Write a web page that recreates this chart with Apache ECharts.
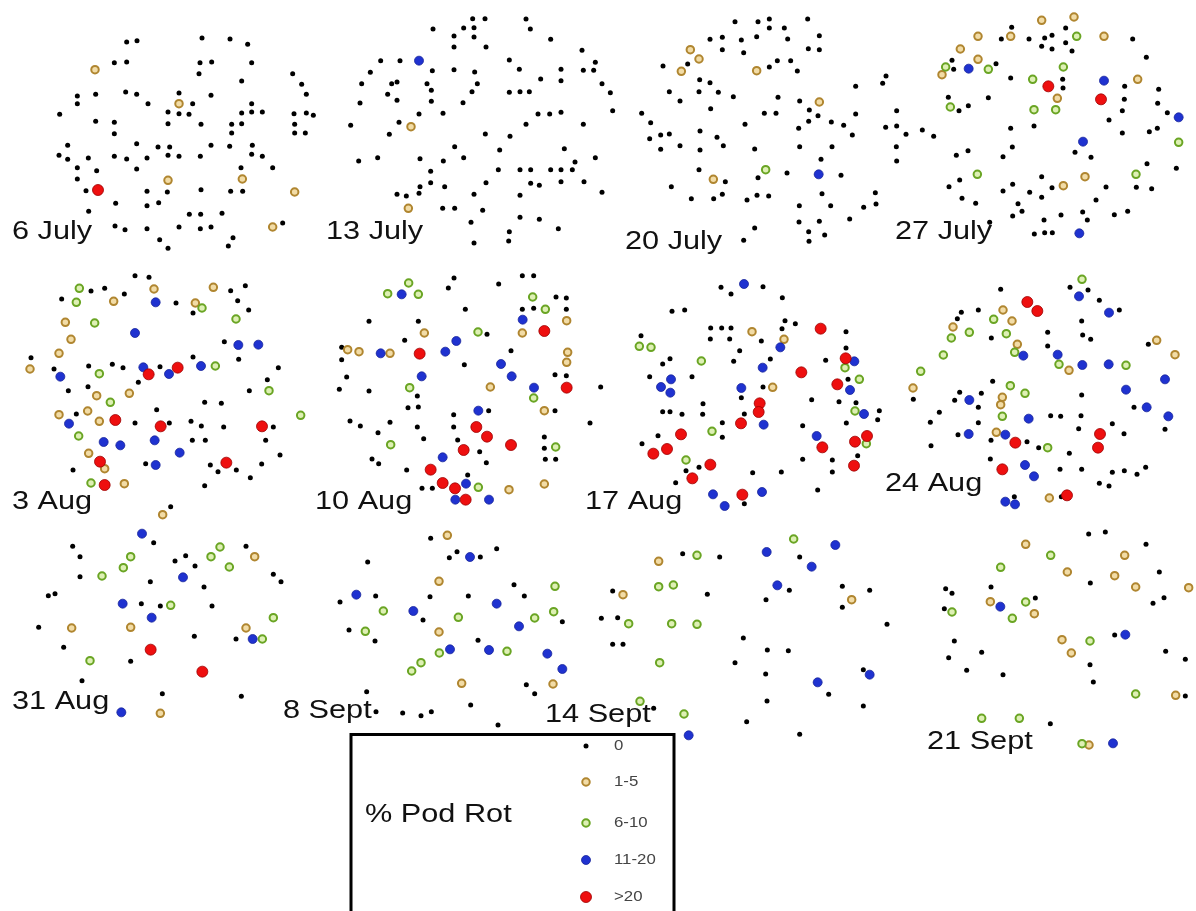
<!DOCTYPE html>
<html>
<head>
<meta charset="utf-8">
<script src="https://cdn.jsdelivr.net/npm/echarts@6/dist/echarts.min.js"></script>
<style>
  html, body { margin: 0; padding: 0; background: #fff; }
  #chart { width: 1196px; height: 911px; }
</style>
</head>
<body>
<div id="chart"></div>
<script>
// rot classes, same order as the legend
var classNames = ['0', '1-5', '6-10', '11-20', '>20'];

var panelLabels = ['6 July', '13 July', '20 July', '27 July', '3 Aug', '10 Aug',
  '17 Aug', '24 Aug', '31 Aug', '8 Sept', '14 Sept', '21 Sept'];

// each sampling date: plant positions in field units, one list per rot class
var jul06 = [
  [[380,126],[411,122],[606,114],[690,117],[743,133],[343,188],[380,186],[600,188],[635,186],[755,188],[597,221],[878,221],[725,243],[905,253],[232,288],[287,283],[377,276],[410,283],[537,279],[633,286],[919,283],[232,311],[444,311],[578,311],[755,311],[179,343],[504,336],[537,341],[567,343],[725,339],[755,336],[787,336],[882,341],[919,339],[940,346],[287,364],[343,367],[504,371],[603,373],[695,373],[725,371],[884,373],[343,401],[695,399],[884,399],[916,399],[203,436],[410,431],[474,441],[509,441],[633,436],[689,439],[757,436],[177,466],[203,478],[265,474],[343,469],[380,477],[441,474],[504,466],[537,469],[601,469],[755,463],[787,469],[232,503],[290,512],[410,507],[723,503],[818,503],[232,537],[258,572],[441,574],[502,576],[603,569],[692,574],[728,574],[347,610],[441,617],[476,608],[266,634],[568,643],[602,643],[666,640],[345,678],[375,689],[441,686],[537,681],[601,686],[633,681],[848,669],[479,719],[699,713],[504,745],[685,738]],
  [[285,209],[537,311],[504,541],[727,537],[884,576],[818,681]],
  [],
  [],
  [[294,570]]
];
var jul13 = [
  [[488,56],[525,56],[648,57],[369,87],[461,84],[492,83],[661,87],[432,108],[492,111],[722,118],[432,141],[528,141],[816,151],[212,182],[270,182],[598,180],[856,187],[181,217],[367,212],[432,209],[494,216],[628,208],[753,208],[820,211],[851,211],[155,251],[245,251],[261,246],[351,251],[502,251],[692,237],[753,242],[876,251],[233,283],[364,271],[486,275],[598,277],[630,275],[658,275],[901,278],[150,309],[261,301],[364,304],[459,308],[908,332],[327,342],[399,340],[684,342],[719,342],[753,337],[122,376],[267,367],[648,373],[820,373],[238,403],[526,402],[600,409],[434,440],[569,450],[763,446],[146,483],[203,473],[330,476],[400,483],[461,473],[856,473],[795,486],[362,514],[565,509],[630,509],[662,509],[722,509],[753,509],[787,509],[330,560],[362,548],[404,560],[528,548],[662,550],[688,556],[753,545],[822,545],[876,577],[261,583],[289,588],[327,580],[492,583],[630,586],[398,625],[434,625],[518,631],[483,667],[630,652],[688,658],[745,686],[598,695],[492,729],[596,723]],
  [[303,380],[295,625]],
  [],
  [[327,182]],
  []
];
var jul20 = [
  [[375,65],[444,65],[478,57],[593,57],[478,84],[523,84],[300,118],[337,112],[394,120],[440,110],[533,117],[628,107],[337,149],[401,158],[595,146],[628,149],[159,198],[233,192],[478,201],[502,182],[542,182],[562,213],[269,239],[300,248],[737,259],[178,275],[267,275],[325,277],[370,290],[504,292],[210,303],[569,303],[95,340],[302,326],[463,340],[498,340],[598,330],[737,342],[122,368],[405,373],[566,385],[596,364],[624,347],[664,366],[701,376],[119,416],[152,405],[178,402],[270,393],[321,412],[727,405],[152,448],[210,437],[270,450],[340,437],[434,447],[569,440],[666,440],[633,478],[267,509],[531,519],[693,526],[184,560],[346,545],[444,533],[244,596],[311,596],[337,583],[411,600],[441,586],[476,588],[636,581],[796,578],[568,617],[662,617],[761,622],[798,612],[567,666],[628,664],[719,657],[434,684],[401,721],[596,695],[644,705],[597,724]],
  [[241,149],[267,177],[214,214],[440,212],[628,306],[310,538]],
  [[467,509]],
  [[626,523]],
  []
];
var jul27 = [
  [[395,82],[557,84],[364,117],[447,117],[494,114],[516,106],[557,128],[758,117],[485,139],[516,147],[576,153],[799,172],[216,181],[221,208],[348,191],[18,228],[8,250],[392,234],[548,238],[549,264],[734,259],[836,268],[205,292],[325,293],[733,298],[833,310],[50,332],[237,332],[265,317],[727,332],[862,338],[687,360],[17,382],[50,378],[78,403],[127,390],[161,409],[392,385],[462,378],[727,399],[808,395],[832,385],[49,440],[397,441],[50,483],[229,466],[264,452],[369,470],[585,457],[633,472],[801,491],[889,505],[239,540],[485,530],[207,560],[398,553],[369,573],[449,577],[516,563],[678,561],[769,562],[815,566],[246,595],[287,610],[485,592],[414,611],[648,600],[426,634],[398,648],[543,645],[608,636],[622,660],[703,644],[743,634],[329,667],[492,660],[463,702],[494,698],[517,698]],
  [[485,61],[582,51],[294,109],[392,109],[672,109],[241,147],[294,178],[186,224],[532,295],[773,238],[615,530],[550,557]],
  [[590,109],[197,201],[325,208],[550,201],[458,238],[211,321],[462,329],[527,329],[896,427],[292,523],[768,523]],
  [[266,206],[672,242],[896,352],[609,425],[598,700]],
  [[505,259],[663,298]]
];
var aug03 = [
  [[405,47],[447,52],[185,117],[273,93],[314,85],[373,102],[528,129],[692,92],[736,77],[713,122],[579,159],[746,150],[673,245],[93,293],[579,291],[716,298],[162,327],[266,318],[337,313],[369,323],[480,320],[835,323],[415,367],[802,359],[205,392],[264,380],[748,392],[470,449],[614,427],[664,430],[229,462],[405,489],[508,489],[573,484],[604,498],[671,501],[820,501],[577,541],[616,541],[797,541],[840,585],[437,611],[631,615],[654,635],[709,630],[785,612],[219,630],[751,653],[614,677],[512,740]],
  [[462,87],[640,82],[341,124],[586,129],[196,187],[213,238],[177,280],[90,327],[290,407],[388,400],[177,464],[263,453],[298,484],[266,580],[314,626],[373,671],[488,764]],
  [[238,85],[229,127],[284,189],[606,144],[708,177],[298,341],[646,318],[807,392],[331,427],[902,466],[236,528],[273,669]],
  [[467,127],[405,219],[715,255],[775,254],[430,322],[507,342],[603,318],[181,350],[207,491],[311,546],[361,556],[464,541],[539,578],[467,615]],
  [[446,343],[533,323],[346,480],[482,499],[786,499],[300,605],[679,608],[314,675]]
];
var aug10 = [
  [[432,54],[415,84],[566,72],[637,47],[671,47],[738,111],[769,114],[466,148],[637,148],[671,145],[769,148],[177,184],[325,184],[531,223],[284,241],[95,262],[603,272],[95,299],[463,314],[110,351],[735,344],[769,347],[88,388],[177,393],[872,381],[322,408],[294,443],[325,441],[536,452],[431,464],[735,452],[120,483],[151,498],[240,487],[322,501],[431,501],[840,489],[204,518],[341,536],[443,540],[703,531],[509,575],[703,565],[186,597],[206,611],[529,608],[706,598],[737,598],[290,630],[473,645],[336,685],[367,685]],
  [[113,269],[147,275],[240,280],[343,219],[637,219],[770,182],[773,277],[770,307],[541,381],[703,452],[597,689],[703,672]],
  [[296,69],[233,101],[325,103],[668,111],[706,148],[504,216],[299,383],[671,414],[242,554],[737,561],[505,682]],
  [[275,103],[638,179],[439,243],[212,280],[406,275],[573,312],[605,349],[335,349],[672,383],[505,452],[398,592],[468,671],[436,719],[537,719]],
  [[703,213],[329,281],[770,383],[499,501],[531,530],[603,555],[461,570],[362,629],[398,669],[435,685],[467,719]]
];
var aug17 = [
  [[423,82],[453,102],[549,80],[607,113],[276,154],[314,150],[615,182],[646,191],[183,227],[392,204],[425,204],[453,204],[606,206],[798,215],[391,237],[449,237],[544,243],[479,272],[798,264],[248,312],[270,296],[461,304],[571,297],[737,301],[209,350],[336,350],[549,381],[804,358],[484,413],[695,419],[777,425],[828,428],[898,452],[248,455],[270,455],[306,463],[369,431],[368,463],[493,462],[893,479],[427,488],[668,497],[799,489],[234,527],[427,532],[186,551],[668,598],[757,600],[833,587],[318,632],[357,622],[518,638],[604,636],[757,636],[287,668],[713,690],[493,731]],
  [[516,215],[612,238],[578,382]],
  [[178,259],[213,262],[364,303],[795,323],[838,358],[825,453],[396,514],[318,600],[859,551]],
  [[492,72],[601,262],[548,323],[273,358],[243,381],[271,398],[484,384],[810,390],[823,304],[852,462],[551,494],[710,528],[399,703],[434,738],[546,696]],
  [[722,206],[664,337],[797,295],[772,373],[539,430],[536,456],[483,490],[303,523],[261,567],[220,581],[727,562],[825,545],[861,528],[391,614],[822,617],[337,655],[487,704]]
];
var aug24 = [
  [[362,88],[570,82],[624,90],[658,121],[718,150],[244,157],[295,150],[232,176],[605,183],[334,234],[503,217],[608,225],[632,238],[503,258],[805,253],[338,364],[100,418],[239,397],[224,421],[304,400],[605,405],[295,442],[762,442],[178,457],[151,487],[295,488],[512,467],[542,469],[603,467],[697,491],[596,506],[855,508],[234,524],[333,541],[441,545],[732,521],[153,557],[476,563],[568,580],[331,597],[540,628],[605,628],[697,637],[733,632],[771,643],[797,622],[658,670],[687,678],[403,710],[544,710]],
  [[369,150],[396,183],[219,201],[412,253],[567,331],[830,241],[885,284],[99,384],[367,412],[362,434],[349,517],[508,714]],
  [[606,58],[341,178],[268,217],[379,221],[214,234],[404,277],[190,285],[122,334],[537,313],[738,316],[391,377],[435,400],[367,469],[503,563]],
  [[597,109],[687,158],[430,287],[533,284],[607,315],[686,313],[855,358],[738,389],[268,420],[800,442],[865,469],[446,476],[266,522],[376,524],[435,615],[462,649],[376,725],[405,733]],
  [[442,126],[472,153],[406,548],[660,522],[654,563],[367,628],[561,706]]
];
var aug31 = [
  [[218,139],[240,170],[461,128],[738,139],[525,183],[557,167],[585,198],[240,230],[451,245],[820,223],[843,245],[145,287],[165,281],[612,261],[424,311],[481,318],[636,318],[116,382],[583,409],[708,417],[191,442],[392,484],[246,542],[487,581],[724,589]],
  [[764,170],[215,384],[392,382],[738,384],[481,640]],
  [[660,141],[392,170],[633,170],[370,203],[688,201],[306,228],[512,316],[820,353],[787,417],[270,482]],
  [[426,101],[549,232],[368,311],[455,353],[758,417],[364,637]],
  [[452,449],[607,515]]
];
var sep08 = [
  [[482,85],[293,156],[538,143],[561,125],[631,141],[680,116],[210,276],[317,258],[480,260],[595,258],[732,224],[763,258],[459,330],[877,335],[237,360],[315,393],[624,391],[769,524],[794,551],[290,545],[602,585],[318,605],[398,609],[453,617],[484,605],[684,645]],
  [[532,76],[507,214],[507,366],[575,520],[849,522]],
  [[340,303],[565,322],[794,324],[851,305],[855,229],[286,364],[508,429],[453,458],[425,483],[711,424]],
  [[259,254],[430,303],[600,141],[680,281],[747,349],[540,418],[657,420],[832,431],[877,477]],
  []
];
var sep14 = [
  [[428,101],[539,111],[779,111],[218,213],[502,223],[748,211],[678,239],[907,199],[989,211],[907,262],[184,295],[233,293],[1041,313],[218,373],[249,373],[610,354],[682,390],[745,392],[585,428],[677,462],[970,449],[866,523],[681,543],[970,558],[341,565],[620,605],[779,643]],
  [[356,124],[249,224],[935,239]],
  [[471,106],[761,57],[356,200],[400,195],[266,311],[395,311],[471,313],[359,428],[300,544],[432,582]],
  [[680,96],[886,75],[815,140],[712,196],[833,487],[989,464],[446,646]],
  []
];
var sep21 = [
  [[626,72],[676,66],[798,103],[838,186],[631,219],[197,236],[216,250],[333,231],[466,264],[852,263],[819,280],[193,296],[223,393],[704,375],[206,443],[305,427],[857,424],[916,448],[260,481],[369,494],[630,464],[640,516],[916,558],[511,641]],
  [[437,103],[734,136],[562,186],[704,197],[767,231],[926,233],[331,275],[463,311],[546,389],[574,429],[887,556],[627,705]],
  [[512,136],[362,172],[437,276],[216,306],[397,325],[630,393],[767,552],[305,625],[418,625],[606,701]],
  [[361,290],[736,374],[699,700]],
  []
];

var panels = [jul06, jul13, jul20, jul27, aug03, aug10, aug17, aug24, aug31, sep08, sep14, sep21];

// where each plot sits on the page: left, top, width, height (px); field units are 3 per px
var frames = [
  [0, 0, 320, 260], [310, 0, 310, 260], [610, 0, 290, 260], [880, 0, 316, 260],
  [0, 260, 320, 260], [310, 260, 300, 260], [580, 260, 310, 260], [880, 260, 316, 260],
  [0, 500, 310, 240], [270, 510, 320, 230], [540, 520, 360, 230], [880, 510, 316, 250]
];
// date label: left x and vertical middle
var labelPos = [
  [12, 232], [326, 232], [625, 242], [895, 232], [12, 502], [315, 502],
  [585, 502], [885, 484], [12, 702], [283, 711], [545, 715], [927, 742]
];

var marks = [
  { size: 5, color: '#000', border: '#000', bw: 0 },
  { size: 7.5, color: '#f2dca6', border: '#b08630', bw: 2 },
  { size: 7.5, color: '#def0b4', border: '#6aa524', bw: 2 },
  { size: 9, color: '#1f32d0', border: '#18259a', bw: 0.8 },
  { size: 11, color: '#ee0f0f', border: '#9c0000', bw: 0.8 }
];

var grids = [], xAxes = [], yAxes = [], series = [];
frames.forEach(function (f, i) {
  grids.push({ left: f[0], top: f[1], width: f[2], height: f[3] });
  xAxes.push({ gridIndex: i, type: 'value', min: 0, max: f[2] * 3, show: false });
  yAxes.push({ gridIndex: i, type: 'value', min: 0, max: f[3] * 3, inverse: true, show: false });
  panels[i].forEach(function (pts, c) {
    var m = marks[c];
    series.push({
      type: 'scatter',
      name: classNames[c],
      xAxisIndex: i,
      yAxisIndex: i,
      data: pts,
      symbol: 'circle',
      symbolSize: m.size,
      clip: false,
      silent: true,
      z: 2 + c,
      itemStyle: { color: m.color, borderColor: m.border, borderWidth: m.bw, opacity: 1 }
    });
  });
});

var graphics = [];
panelLabels.forEach(function (t, i) {
  graphics.push({
    type: 'text', x: labelPos[i][0], y: labelPos[i][1], scaleX: 1.18,
    style: { text: t, fill: '#111', font: '26px "Liberation Sans", Arial, sans-serif', verticalAlign: 'middle' }
  });
});

// legend box
graphics.push({
  type: 'rect', shape: { x: 351, y: 734.5, width: 323, height: 190 },
  style: { fill: '#fff', stroke: '#000', lineWidth: 3 }, z: 10
});
graphics.push({
  type: 'text', x: 365, y: 815, scaleX: 1.18, z: 11,
  style: { text: '% Pod Rot', fill: '#111', font: '26px "Liberation Sans", Arial, sans-serif', verticalAlign: 'middle' }
});
var legY = [746, 782, 823, 860, 897];
classNames.forEach(function (n, c) {
  var m = marks[c];
  graphics.push({
    type: 'circle', shape: { cx: 586, cy: legY[c], r: m.size / 2 }, z: 11,
    style: { fill: m.color, stroke: m.border, lineWidth: m.bw }
  });
  graphics.push({
    type: 'text', x: 614, y: legY[c], scaleX: 1.12, z: 11,
    style: { text: n, fill: '#444', font: '15px "Liberation Sans", Arial, sans-serif', verticalAlign: 'middle' }
  });
});

var chart = echarts.init(document.getElementById('chart'));
chart.setOption({
  animation: false,
  backgroundColor: '#fff',
  grid: grids,
  xAxis: xAxes,
  yAxis: yAxes,
  series: series,
  graphic: graphics
});
</script>
</body>
</html>
